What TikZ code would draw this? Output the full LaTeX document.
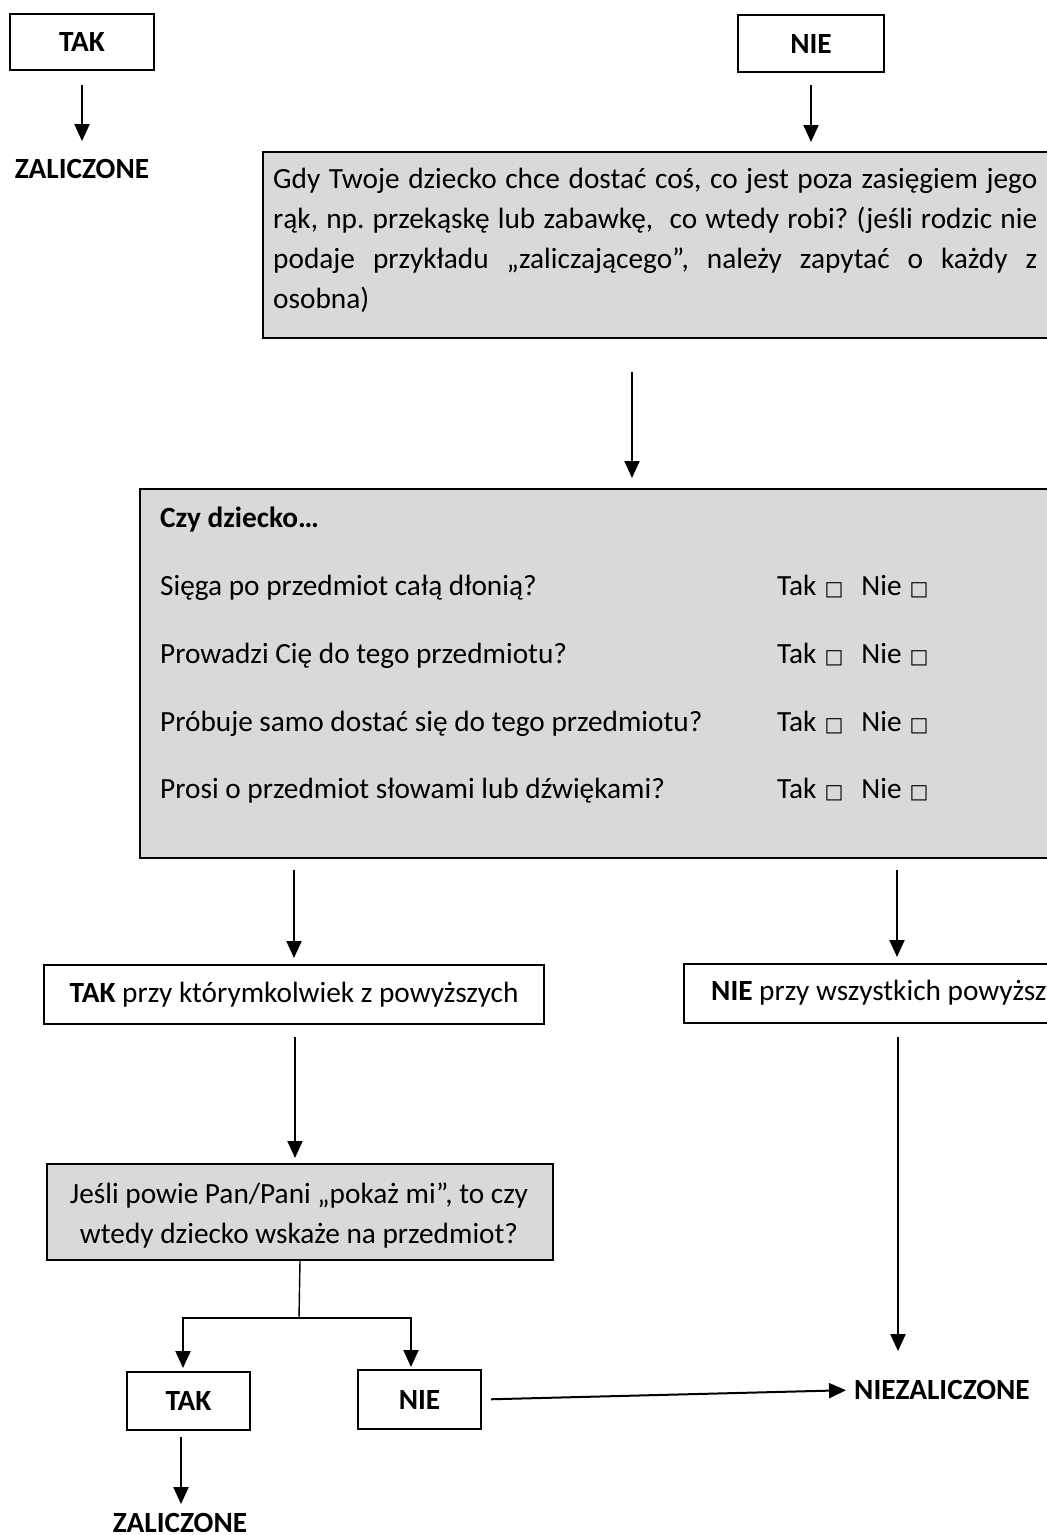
\documentclass[tikz,border=0pt]{standalone}
\usepackage{fontspec}
\setmainfont{Carlito}
\newfontfamily\symfont{DejaVu Sans}
\usetikzlibrary{arrows.meta}
\definecolor{boxgray}{HTML}{D9D9D9}
\frenchspacing
\newcommand\sqbox{{\symfont\fontsize{20}{20}\selectfont □}}
\newcommand\takanswer{Tak\hspace{8pt}\sqbox\hspace{18pt}Nie\hspace{8pt}\sqbox}
\begin{document}
\begin{tikzpicture}[x=1pt,y=-1pt,
  every node/.style={font=\fontsize{29.3}{40}\selectfont, inner sep=0pt},
  bold/.style={font=\fontsize{29.3}{40}\selectfont\bfseries},
  box/.style={draw, line width=2pt, anchor=north west},
  gbox/.style={box, fill=boxgray},
  arr/.style={line width=2pt, -{Triangle[length=17pt,width=15pt]}},
  stem/.style={line width=1.4pt},
]
\clip (0,0) rectangle (1047,1535);
\fill[white] (0,0) rectangle (1047,1535);

% ---- top row
\node[box, bold, minimum width=144pt, minimum height=56pt] (tak1) at (9,13) {TAK};
\node[bold] (zal1) at (82,169) {ZALICZONE};
\draw[arr, shorten <=14pt, shorten >=18pt] (tak1.south) -- (tak1.south |- zal1.north);

\node[box, bold, minimum width=146pt, minimum height=57pt] (nie1) at (737,14) {NIE};

% ---- question 1
\node[gbox, minimum width=820pt, minimum height=186pt] (q1) at (262,151) {};
\node[anchor=base west] (q1a) at (273,188) {\makebox[764pt][s]{Gdy Twoje dziecko chce dostać coś, co jest poza zasięgiem jego}};
\node[anchor=base west] (q1b) at (273,228) {\makebox[764pt][s]{rąk, np. przekąskę lub zabawkę,~ co wtedy robi? (jeśli rodzic nie}};
\node[anchor=base west] (q1c) at (273,268) {\makebox[764pt][s]{podaje przykładu „zaliczającego”, należy zapytać o każdy z}};
\node[anchor=base west] (q1d) at (273,308) {osobna)};
\draw[arr, shorten <=12pt, shorten >=9pt] (nie1.south) -- (nie1.south |- q1.north);

% ---- question 2
\node[gbox, minimum width=940pt, minimum height=369pt] (q2) at (139,488) {};
\node[bold, anchor=base west] (czy) at (160,527) {Czy dziecko…};
\node[anchor=base west] (r1) at (160,595) {Sięga po przedmiot całą dłonią?};
\node[anchor=base west] (r2) at (160,663) {Prowadzi Cię do tego przedmiotu?};
\node[anchor=base west] (r3) at (160,731) {Próbuje samo dostać się do tego przedmiotu?};
\node[anchor=base west] (r4) at (160,798) {Prosi o przedmiot słowami lub dźwiękami?};
\node[anchor=base west] (a1) at (777,595) {\takanswer};
\node[anchor=base west] (a2) at (777,663) {\takanswer};
\node[anchor=base west] (a3) at (777,731) {\takanswer};
\node[anchor=base west] (a4) at (777,798) {\takanswer};
\coordinate (c12) at (632,0);
\draw[arr, shorten <=33pt, shorten >=10pt] (q1.south -| c12) -- (q2.north -| c12);

% ---- answers to question 2
\node[box, minimum width=500pt, minimum height=59pt] (tp) at (43,964) {\textbf{TAK} przy którymkolwiek z powyższych};
\node[box, minimum width=420pt, minimum height=59pt] (np) at (683,963) {};
\node[anchor=base west] (npt) at (711,1000) {\textbf{NIE} przy wszystkich powyższych};
\draw[arr, shorten <=11pt, shorten >=6pt] (q2.south -| tp.north) -- (tp.north);
\coordinate (cr) at (897,0);
\draw[arr, shorten <=11pt, shorten >=6pt] (q2.south -| cr) -- (np.north -| cr);

% ---- question 3
\node[gbox, minimum width=506pt, minimum height=96pt] (q3) at (46,1163) {};
\node[anchor=base] (q3a) at (299,1203) {Jeśli powie Pan/Pani „pokaż mi”, to czy};
\node[anchor=base] (q3b) at (299,1243) {wtedy dziecko wskaże na przedmiot?};
\coordinate (cl) at (295,0);
\draw[arr, shorten <=12pt, shorten >=5pt] (tp.south -| cl) -- (q3.north -| cl);

% ---- final answers
\node[box, bold, minimum width=123pt, minimum height=58pt] (tak2) at (126,1371) {TAK};
\node[box, bold, minimum width=123pt, minimum height=59pt] (nie2) at (357,1369) {NIE};
\node[bold] (zal2) at (180,1523) {ZALICZONE};
\node[bold, anchor=west] (niezal) at (854,1390) {NIEZALICZONE};

\coordinate (split) at (299,1318);
\coordinate (xl) at (183,0);
\coordinate (xr) at (411,0);
\draw[stem] (q3.south) -- (split);
\draw[arr, shorten >=3pt] (split) -| (tak2.north -| xl);
\draw[arr, shorten >=2pt] (split) -| (nie2.north -| xr);
\coordinate (xt) at (181,0);
\draw[arr, shorten <=6pt, shorten >=9pt] (tak2.south -| xt) -- (zal2.north -| xt);
\draw[arr, shorten <=9pt, shorten >=8pt] (nie2.east) -- (niezal.west);
\coordinate (xn) at (898,0);
\draw[arr, shorten <=13pt, shorten >=29pt] (np.south -| xn) -- (niezal.north -| xn);
\end{tikzpicture}
\end{document}
